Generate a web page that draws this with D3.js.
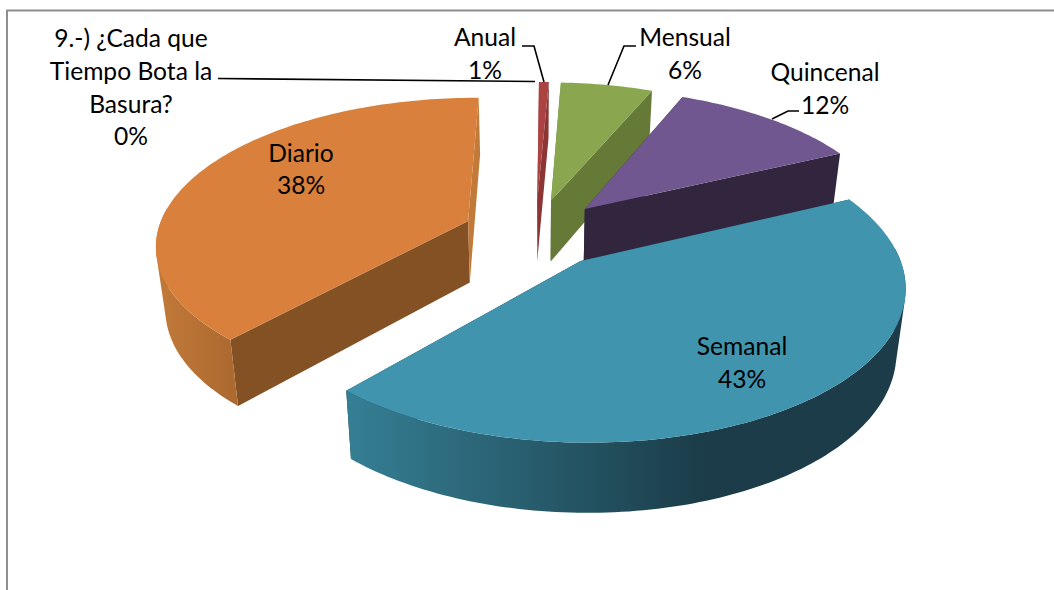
<!DOCTYPE html>
<html lang="es">
<head>
<meta charset="UTF-8">
<title>Cada que Tiempo Bota la Basura</title>
<style>
  html, body { margin: 0; padding: 0; background: #fff; }
  svg { display: block; }
  text { font-family: Lato, "Open Sans", sans-serif; font-size: 24.6px; fill: #000; text-anchor: middle; }
</style>
</head>
<body>
<svg id="chart" width="1054" height="590"></svg>
<script src="https://d3js.org/d3.v7.min.js"></script>
<script>
// datos del grafico, en el orden en que giran las rebanadas
// los rotulos muestran enteros; los decimales se estiman del tamano de cada rebanada
var categories = ["9.-) ¿Cada que Tiempo Bota la Basura?", "Anual", "Mensual", "Quincenal", "Semanal", "Diario"];
var values = [0, 0.6, 5.6, 11.6, 43.4, 38.4];

// colores: cara superior, pared plana, borde curvo (claro / oscuro)
var topColors = ["#4f81bd", "#ab4342", "#8aa64e", "#71578f", "#4094ae", "#d9813c"];
var wallColors = ["#2c4d75", "#8b3634", "#667a38", "#32263f", "#1b3c48", "#845124"];
var rimLight = ["#4f81bd", "#a23f3e", "#7f9848", "#5f4a79", "#357f94", "#c27a39"];
var rimDark = ["#2c4d75", "#8b3634", "#667a38", "#32263f", "#1b3c48", "#ad6a30"];

// rotulos, cada linea es un renglon (el porcentaje sale de values)
var nameLines = [
  ["9.-) ¿Cada que", "Tiempo Bota la", "Basura?"],
  ["Anual"],
  ["Mensual"],
  ["Quincenal"],
  ["Semanal"],
  ["Diario"]
];
var labelCenterX = [131, 485, 685, 825, 742, 301];
var labelFirstBaseline = [47, 46, 46, 81, 355, 161.5];
var lineStep = 32.8;

// lineas guia
var leaders = [
  [[218, 78.5], [535, 81.5]],
  [[522, 46], [534, 46], [544, 82]],
  [[636, 46], [624, 46], [608, 85]],
  [[799, 111], [788, 111], [772, 119]]
];

var svg = d3.select("#chart");

// marco
svg.append("path")
  .attr("d", "M7,590 V10.5 H1054")
  .attr("fill", "none")
  .attr("stroke", "#8e8e8e")
  .attr("stroke-width", 2);

// proyeccion en perspectiva del disco
var cx = 535.5, cy = 233, rx = 311, ry = 145, depth = 62, persp = 0.15, shrink = 0.025, explode = 0.235;
var startDeg = 0.4;

function project(x, y, z) {
  var s = 1 / (1 - persp * y);
  var b = 1 - shrink * z;
  return [cx + rx * x * s * b, cy + ry * y * s * b + depth * s * z];
}

var startRad = startDeg * Math.PI / 180;
var pie = d3.pie().sort(null).startAngle(startRad).endAngle(startRad + 2 * Math.PI)
  .value(function(d) { return d; })(values);

// d3.pie entrega los arcos; cada uno se desplaza sobre su bisectriz
var slices = pie.map(function(p) {
  var mid = (p.startAngle + p.endAngle) / 2;
  var ox = explode * Math.sin(mid), oy = -explode * Math.cos(mid);
  var n = Math.max(2, Math.ceil((p.endAngle - p.startAngle) / 0.02));
  var angles = d3.range(n + 1).map(function(i) { return p.startAngle + (p.endAngle - p.startAngle) * i / n; });
  var front = angles.filter(function(a) { return Math.cos(a) < 0.1; });
  function ring(list, z) {
    return list.map(function(a) { return project(ox + Math.sin(a), oy - Math.cos(a), z); });
  }
  return {
    i: p.index,
    value: p.value,
    apex: function(z) { return project(ox, oy, z); },
    rim: function(z) { return ring(angles, z); },
    frontRim: function(z) { return ring(front, z); }
  };
}).filter(function(s) { return s.value > 0; });

var line = d3.line();
var defs = svg.append("defs");

slices.forEach(function(s) {
  var pts = s.frontRim(0);
  if (!pts.length) return;
  var g = defs.append("linearGradient")
    .attr("id", "rim" + s.i)
    .attr("gradientUnits", "userSpaceOnUse");
  g.attr("x1", d3.min(pts, function(p) { return p[0]; })).attr("y1", 0)
   .attr("x2", s.i === 4 ? 705 : d3.max(pts, function(p) { return p[0]; })).attr("y2", 0);
  g.append("stop").attr("offset", 0).attr("stop-color", rimLight[s.i]);
  g.append("stop").attr("offset", 1).attr("stop-color", rimDark[s.i]);
});

// el borde curvo se barre con cuadrilateros para que no queden muescas en los lados
function sweep(ft, fb) {
  return d3.range(ft.length - 1).map(function(i) {
    var q = [ft[i], ft[i + 1], fb[i + 1], fb[i]];
    if (d3.polygonArea(q) < 0) q.reverse();
    return line(q) + "Z";
  }).join("");
}

// de atras hacia adelante
var order = [1, 2, 3, 5, 4];
order.forEach(function(idx) {
  var s = slices.find(function(d) { return d.i === idx; });
  var top = s.rim(0), bottom = s.rim(1);
  var a0 = s.apex(0), a1 = s.apex(1);
  var sg = svg.append("g");

  // paredes planas
  sg.append("path")
    .attr("d", line([a0, top[0], bottom[0], a1]) + "Z")
    .attr("fill", wallColors[idx]);
  sg.append("path")
    .attr("d", line([a0, top[top.length - 1], bottom[bottom.length - 1], a1]) + "Z")
    .attr("fill", idx === 5 ? rimLight[5] : wallColors[idx]);

  // borde curvo, solo la parte que mira al frente
  var ft = s.frontRim(0), fb = s.frontRim(1);
  if (ft.length) {
    sg.append("path")
      .attr("d", sweep(ft, fb))
      .attr("fill", "url(#rim" + idx + ")");
  }

  // cara superior
  sg.append("path")
    .attr("d", line([a0].concat(top)) + "Z")
    .attr("fill", topColors[idx]);
});

// lineas guia
svg.append("g").selectAll("path")
  .data(leaders)
  .enter()
  .append("path")
  .attr("d", function(d) { return line(d); })
  .attr("fill", "none")
  .attr("stroke", "#000")
  .attr("stroke-width", 1.6);

// rotulos
var labels = svg.append("g").selectAll("text")
  .data(categories)
  .enter()
  .append("text")
  .attr("x", function(d, i) { return labelCenterX[i]; })
  .attr("y", function(d, i) { return labelFirstBaseline[i]; });

labels.each(function(d, i) {
  var rows = nameLines[i].concat([Math.round(values[i]) + "%"]);
  d3.select(this).selectAll("tspan")
    .data(rows)
    .enter()
    .append("tspan")
    .attr("x", labelCenterX[i])
    .attr("y", function(t, j) { return labelFirstBaseline[i] + j * lineStep; })
    .text(function(t) { return t; });
});
</script>
</body>
</html>
